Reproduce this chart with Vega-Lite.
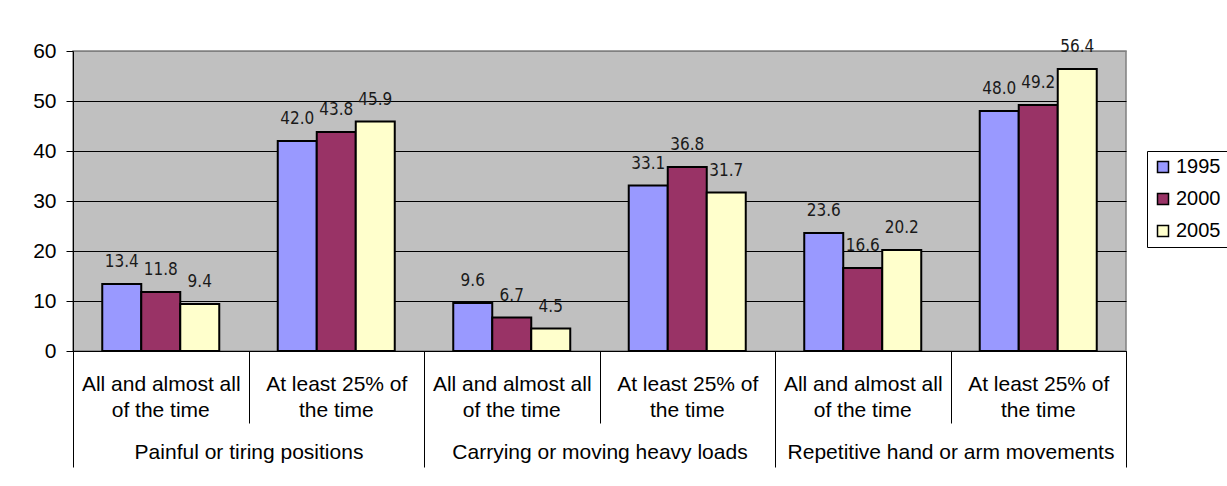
{
  "$schema": "https://vega.github.io/schema/vega-lite/v6.json",
  "width": 1053,
  "height": 300,
  "autosize": {"type": "none"},
  "padding": {"left": 73, "top": 51, "right": 101, "bottom": 135},
  "background": "white",
  "config": {
    "font": "Liberation Sans",
    "view": {"fill": "#C0C0C0", "stroke": "#808080", "strokeWidth": 1.5},
    "axis": {"labelColor": "black", "labelFontSize": 21, "labelFont": "Liberation Sans", "domainColor": "black", "tickColor": "black", "domainWidth": 1, "tickWidth": 1}
  },
  "datasets": {
    "bars": [
      {"group": "Painful or tiring positions", "key": "A1", "year": "1995", "value": 13.4},
      {"group": "Painful or tiring positions", "key": "A1", "year": "2000", "value": 11.8},
      {"group": "Painful or tiring positions", "key": "A1", "year": "2005", "value": 9.4},
      {"group": "Painful or tiring positions", "key": "B1", "year": "1995", "value": 42.0},
      {"group": "Painful or tiring positions", "key": "B1", "year": "2000", "value": 43.8},
      {"group": "Painful or tiring positions", "key": "B1", "year": "2005", "value": 45.9},
      {"group": "Carrying or moving heavy loads", "key": "A2", "year": "1995", "value": 9.6},
      {"group": "Carrying or moving heavy loads", "key": "A2", "year": "2000", "value": 6.7},
      {"group": "Carrying or moving heavy loads", "key": "A2", "year": "2005", "value": 4.5},
      {"group": "Carrying or moving heavy loads", "key": "B2", "year": "1995", "value": 33.1},
      {"group": "Carrying or moving heavy loads", "key": "B2", "year": "2000", "value": 36.8},
      {"group": "Carrying or moving heavy loads", "key": "B2", "year": "2005", "value": 31.7},
      {"group": "Repetitive hand or arm movements", "key": "A3", "year": "1995", "value": 23.6},
      {"group": "Repetitive hand or arm movements", "key": "A3", "year": "2000", "value": 16.6},
      {"group": "Repetitive hand or arm movements", "key": "A3", "year": "2005", "value": 20.2},
      {"group": "Repetitive hand or arm movements", "key": "B3", "year": "1995", "value": 48.0},
      {"group": "Repetitive hand or arm movements", "key": "B3", "year": "2000", "value": 49.2},
      {"group": "Repetitive hand or arm movements", "key": "B3", "year": "2005", "value": 56.4}
    ],
    "subs": [
      {"line1": "All and almost all", "line2": "of the time"},
      {"line1": "At least 25% of", "line2": "the time"},
      {"line1": "All and almost all\u200b", "line2": "of the time\u200b"},
      {"line1": "At least 25% of\u200b", "line2": "the time\u200b"},
      {"line1": "All and almost all\u200b\u200b", "line2": "of the time\u200b\u200b"},
      {"line1": "At least 25% of\u200b\u200b", "line2": "the time\u200b\u200b"}
    ],
    "groups": [
      {"group": "Painful or tiring positions"},
      {"group": "Carrying or moving heavy loads"},
      {"group": "Repetitive hand or arm movements"}
    ]
  },
  "layer": [
    {
      "data": {"name": "bars"},
      "layer": [
        {
          "mark": {"type": "bar", "stroke": "black", "strokeWidth": 2},
          "encoding": {
            "x": {
              "field": "key", "type": "nominal", "sort": null,
              "scale": {"paddingInner": 0.3333, "paddingOuter": 0.1667},
              "axis": null
            },
            "xOffset": {"field": "year", "type": "nominal", "scale": {"paddingInner": 0, "paddingOuter": 0}},
            "y": {
              "field": "value", "type": "quantitative",
              "scale": {"domain": [0, 60], "nice": false},
              "axis": {
                "title": null, "values": [0, 10, 20, 30, 40, 50, 60], "tickSize": 7, "labelPadding": 10,
                "grid": true, "gridWidth": 1,
                "gridColor": {"condition": {"test": "datum.value == 60", "value": "#808080"}, "value": "black"}
              }
            },
            "color": {
              "field": "year", "type": "nominal",
              "scale": {"range": ["#9999FF", "#993366", "#FFFFCC"]},
              "legend": {
                "title": null, "orient": "none", "legendX": 1074, "legendY": 100,
                "strokeColor": "black", "fillColor": "white", "padding": 6, "rowPadding": 12,
                "symbolType": "square", "symbolSize": 121, "symbolStrokeColor": "black", "symbolStrokeWidth": 1.5,
                "symbolOpacity": 1,
                "labelFontSize": 20, "labelFont": "Liberation Sans", "labelOffset": 3, "labelColor": "black"
              }
            }
          }
        },
        {
          "mark": {"type": "text", "dy": -17, "baseline": "alphabetic", "font": "DejaVu Sans Condensed", "fontSize": 17, "color": "#1a1a1a"},
          "encoding": {
            "x": {"field": "key", "type": "nominal", "sort": null, "axis": null},
            "xOffset": {"field": "year", "type": "nominal"},
            "y": {"field": "value", "type": "quantitative"},
            "text": {"field": "value", "type": "quantitative", "format": ".1f"}
          }
        }
      ]
    },
    {
      "data": {"name": "subs"},
      "mark": {"type": "rule", "opacity": 0},
      "encoding": {
        "x": {
          "field": "line1", "type": "nominal", "sort": null,
          "scale": {"paddingInner": 0, "paddingOuter": 0},
          "axis": {
            "title": null, "orient": "bottom", "tickBand": "extent", "tickSize": 72,
            "labelAngle": 0, "labelPadding": -50, "labelBaseline": "top", "labelLimit": 400, "grid": false
          }
        }
      }
    },
    {
      "data": {"name": "subs"},
      "mark": {"type": "rule", "opacity": 0},
      "encoding": {
        "x": {
          "field": "line2", "type": "nominal", "sort": null,
          "scale": {"paddingInner": 0, "paddingOuter": 0},
          "axis": {
            "title": null, "orient": "bottom", "ticks": false, "tickSize": 0, "domain": false,
            "labelAngle": 0, "labelPadding": 48, "labelBaseline": "top", "labelLimit": 400, "grid": false
          }
        }
      }
    },
    {
      "data": {"name": "groups"},
      "mark": {"type": "rule", "opacity": 0},
      "encoding": {
        "x": {
          "field": "group", "type": "nominal", "sort": null,
          "scale": {"paddingInner": 0, "paddingOuter": 0},
          "axis": {
            "title": null, "orient": "bottom", "tickBand": "extent", "tickSize": 116,
            "labelAngle": 0, "labelPadding": -26, "labelBaseline": "top", "labelLimit": 400, "domain": false, "grid": false
          }
        }
      }
    }
  ],
  "resolve": {"scale": {"x": "independent"}}
}
